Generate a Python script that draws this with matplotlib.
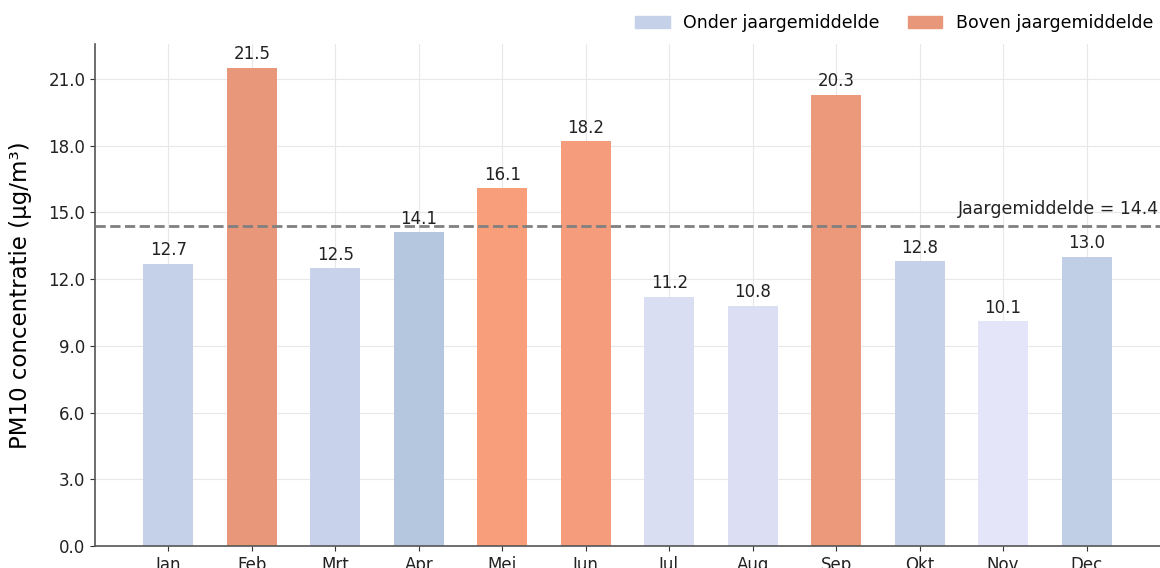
import matplotlib.pyplot as plt

plt.rcParams['font.family'] = ['DejaVu Sans']

# Maandelijkse PM10 concentraties
maanden = ['Jan', 'Feb', 'Mrt', 'Apr', 'Mei', 'Jun', 'Jul', 'Aug', 'Sep', 'Okt', 'Nov', 'Dec']
waarden = [12.7, 21.5, 12.5, 14.1, 16.1, 18.2, 11.2, 10.8, 20.3, 12.8, 10.1, 13.0]
kleuren = ['#c5d1e8', '#e9977a', '#c8d2ea', '#b5c6df', '#f99e7b', '#f49c7b',
           '#d9def3', '#dcdff3', '#ec997b', '#c4d1e8', '#e4e5f8', '#c0cfe6']
jaargemiddelde = 14.4

fig = plt.figure(figsize=(11.6, 5.68), dpi=100)
ax = fig.add_axes([95 / 1160, 22 / 568, 1 - 95 / 1160, 502 / 568])

x = list(range(len(maanden)))
ax.bar(x, waarden, width=0.6, color=kleuren, zorder=2)

for xi, v in zip(x, waarden):
    ax.text(xi, v + 0.2, f'{v:.1f}', ha='center', va='bottom', fontsize=12, color='#222222')

ax.axhline(jaargemiddelde, color='#808080', linestyle='--', linewidth=2, zorder=3)
ax.text(11.87, jaargemiddelde + 0.35, f'Jaargemiddelde = {jaargemiddelde}',
        ha='right', va='bottom', fontsize=12.5, color='#222222')

ax.set_xticks(x)
ax.set_xticklabels(maanden, fontsize=12)
ax.set_yticks([0, 3, 6, 9, 12, 15, 18, 21])
ax.set_yticklabels([f'{t:.1f}' for t in [0, 3, 6, 9, 12, 15, 18, 21]], fontsize=12)
ax.set_xlim(-0.88, 11.88)
ax.set_ylim(0, 22.575)
ax.set_ylabel('PM10 concentratie (µg/m³)', fontsize=16.5, labelpad=12)

ax.grid(True, color='#e8e8e8', linewidth=0.8, zorder=0)
ax.set_axisbelow(True)
for s in ['top', 'right']:
    ax.spines[s].set_visible(False)
for s in ['left', 'bottom']:
    ax.spines[s].set_color('#555555')
    ax.spines[s].set_linewidth(1.2)
ax.tick_params(colors='#333333', labelcolor='#222222')

onder = plt.Rectangle((0, 0), 1, 1, color='#c5d1e8')
boven = plt.Rectangle((0, 0), 1, 1, color='#e9977a')
fig.legend([onder, boven], ['Onder jaargemiddelde', 'Boven jaargemiddelde'],
           loc='upper right', bbox_to_anchor=(1.008, 1.002), ncol=2, frameon=False,
           fontsize=12.5, handlelength=2.0, handleheight=0.7, columnspacing=1.6)

fig.savefig('out.png', dpi=100)
